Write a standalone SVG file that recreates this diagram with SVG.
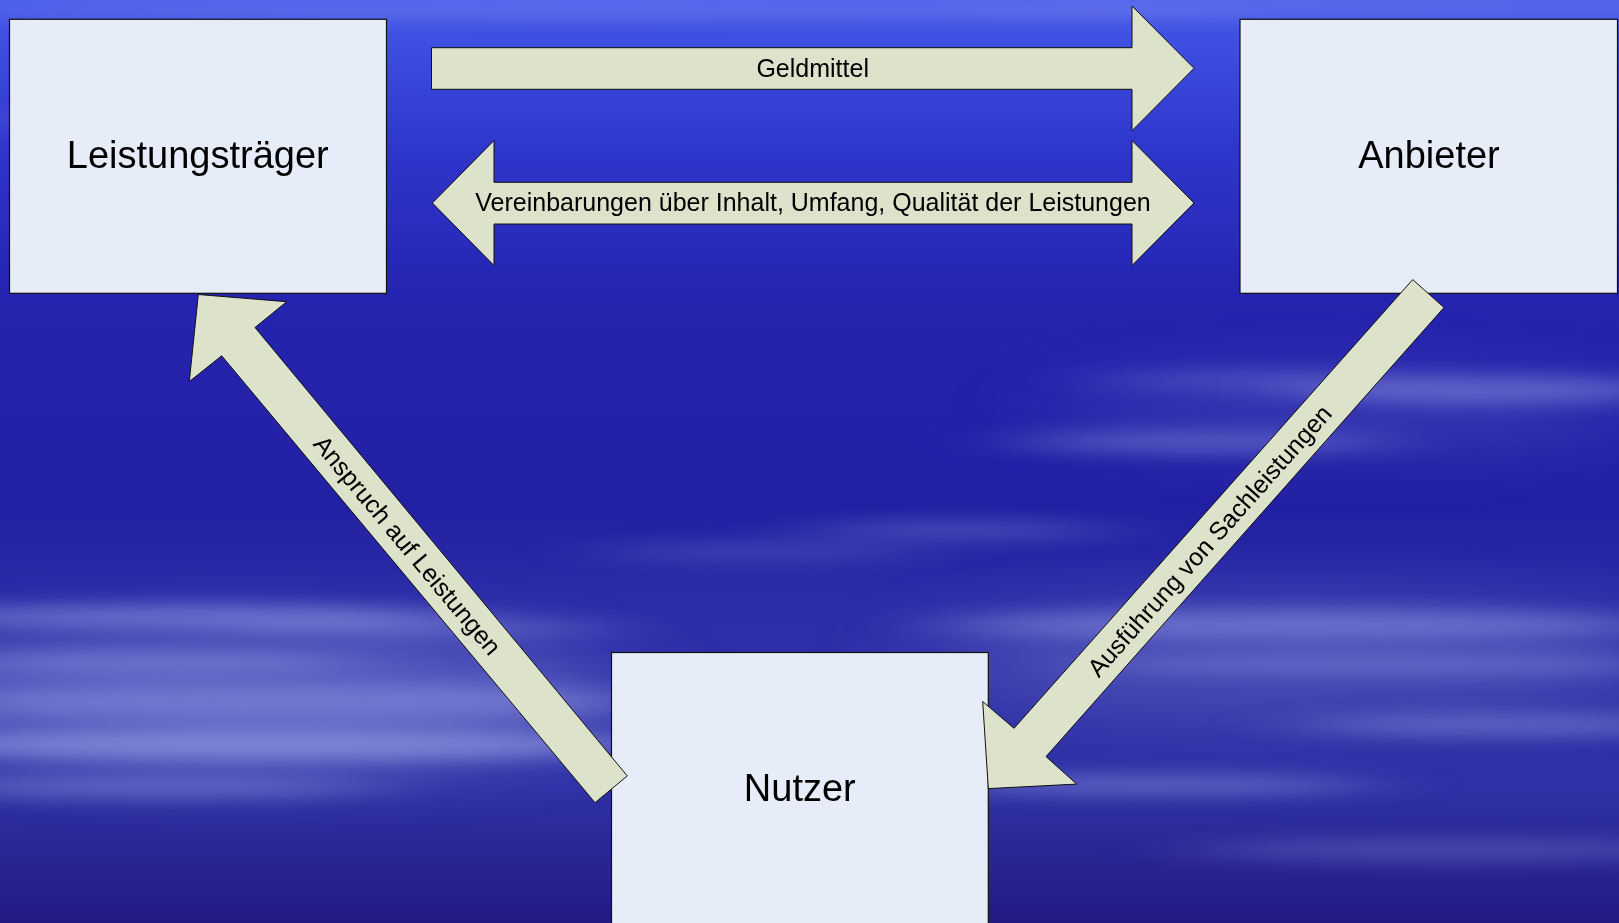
<svg xmlns="http://www.w3.org/2000/svg" width="1619" height="923" viewBox="0 0 1619 923">
<style>
.node{fill:#e6edf8;stroke:#111;stroke-width:1.2}
.arrow{fill:#dde2cb;stroke:#111;stroke-width:1}
.big{font-family:"Liberation Sans",Arial,sans-serif;font-size:38px;fill:#000;text-anchor:middle}
.lbl{font-family:"Liberation Sans",Arial,sans-serif;font-size:25px;fill:#000;text-anchor:middle}
.cl{fill:#a4acea}
</style>
<defs>
<linearGradient id="sky" x1="0" y1="0" x2="0" y2="1">
<stop offset="0" stop-color="#4a5eec"/>
<stop offset="0.04" stop-color="#3e50e2"/>
<stop offset="0.16" stop-color="#2f36cc"/>
<stop offset="0.32" stop-color="#2524b0"/>
<stop offset="0.55" stop-color="#2220a2"/>
<stop offset="0.66" stop-color="#2c2ea8"/>
<stop offset="0.85" stop-color="#2f32a6"/>
<stop offset="1" stop-color="#221a84"/>
</linearGradient>
<filter id="blur" x="-50%" y="-300%" width="200%" height="700%">
<feGaussianBlur stdDeviation="50 9"/>
</filter>
<filter id="soft" x="-50%" y="-100%" width="200%" height="300%">
<feGaussianBlur stdDeviation="60 30"/>
</filter>
</defs>
<rect id="background" x="0" y="0" width="1619" height="923" fill="url(#sky)"/>
<g id="cloud-haze" filter="url(#soft)">
<ellipse class="cl" cx="250" cy="700" rx="380" ry="70" opacity="0.35"/>
<ellipse class="cl" cx="1300" cy="660" rx="380" ry="60" opacity="0.22"/>
<ellipse class="cl" cx="1350" cy="410" rx="300" ry="40" opacity="0.15"/>
</g>
<g id="clouds" filter="url(#blur)">
<ellipse class="cl" cx="600" cy="10" rx="650" ry="7" opacity="0.3"/>
<ellipse class="cl" cx="1350" cy="8" rx="400" ry="6" opacity="0.3"/>
<ellipse class="cl" cx="10" cy="120" rx="40" ry="5" opacity="0.4"/>
<ellipse class="cl" cx="180" cy="617" rx="280" ry="12" opacity="0.45"/>
<ellipse class="cl" cx="420" cy="628" rx="200" ry="10" opacity="0.3"/>
<ellipse class="cl" cx="150" cy="662" rx="220" ry="12" opacity="0.35"/>
<ellipse class="cl" cx="300" cy="702" rx="360" ry="18" opacity="0.35"/>
<ellipse class="cl" cx="280" cy="745" rx="380" ry="16" opacity="0.55"/>
<ellipse class="cl" cx="150" cy="787" rx="230" ry="12" opacity="0.35"/>
<ellipse class="cl" cx="1490" cy="390" rx="200" ry="14" opacity="0.4"/>
<ellipse class="cl" cx="1250" cy="380" rx="150" ry="9" opacity="0.25"/>
<ellipse class="cl" cx="1200" cy="442" rx="190" ry="11" opacity="0.35"/>
<ellipse class="cl" cx="960" cy="530" rx="150" ry="9" opacity="0.3"/>
<ellipse class="cl" cx="760" cy="552" rx="160" ry="9" opacity="0.22"/>
<ellipse class="cl" cx="1300" cy="625" rx="360" ry="15" opacity="0.4"/>
<ellipse class="cl" cx="1380" cy="664" rx="300" ry="11" opacity="0.3"/>
<ellipse class="cl" cx="1520" cy="725" rx="220" ry="11" opacity="0.38"/>
<ellipse class="cl" cx="1150" cy="785" rx="220" ry="11" opacity="0.38"/>
<ellipse class="cl" cx="1450" cy="850" rx="260" ry="12" opacity="0.25"/>
</g>
<g id="node-leistungstraeger">
<rect class="node" x="9.5" y="19.3" width="377" height="274"/>
<text class="big" x="197.8" y="168">Leistungsträger</text>
</g>
<g id="node-anbieter">
<rect class="node" x="1240" y="19.3" width="377.5" height="274"/>
<text class="big" x="1429" y="168">Anbieter</text>
</g>
<g id="node-nutzer">
<rect class="node" x="611.5" y="652.5" width="376.8" height="280"/>
<text class="big" x="799.8" y="801">Nutzer</text>
</g>
<g id="connectors">
<g id="arrow-geldmittel">
<polygon class="arrow" points="431.5,47.7 1132,47.7 1132,6 1194,68.3 1132,130.7 1132,89.3 431.5,89.3"/>
<text class="lbl" x="812.7" y="77">Geldmittel</text>
</g>
<g id="arrow-vereinbarungen">
<polygon class="arrow" points="432.4,203 494,140.5 494,182.3 1132,182.3 1132,140.5 1194,203 1132,265.5 1132,224 494,224 494,265.5"/>
<text class="lbl" x="813" y="211">Vereinbarungen über Inhalt, Umfang, Qualität der Leistungen</text>
</g>
<g id="arrow-anspruch">
<polygon class="arrow" points="595,802.7 627.3,775.9 255,327.5 286.7,301.7 198.3,294.5 189.3,381.6 221.7,355.8"/>
<text class="lbl" transform="translate(407.7,545) rotate(50.2)" x="0" y="9">Anspruch auf Leistungen</text>
</g>
<g id="arrow-ausfuehrung">
<polygon class="arrow" points="1412.7,279.6 1444,307.5 1046,756.6 1076.7,784.1 988.3,788.6 982.7,701.5 1014,728.3"/>
<text class="lbl" transform="translate(1209.2,540.6) rotate(-48.4)" x="0" y="9">Ausführung von Sachleistungen</text>
</g>
</g>
</svg>
